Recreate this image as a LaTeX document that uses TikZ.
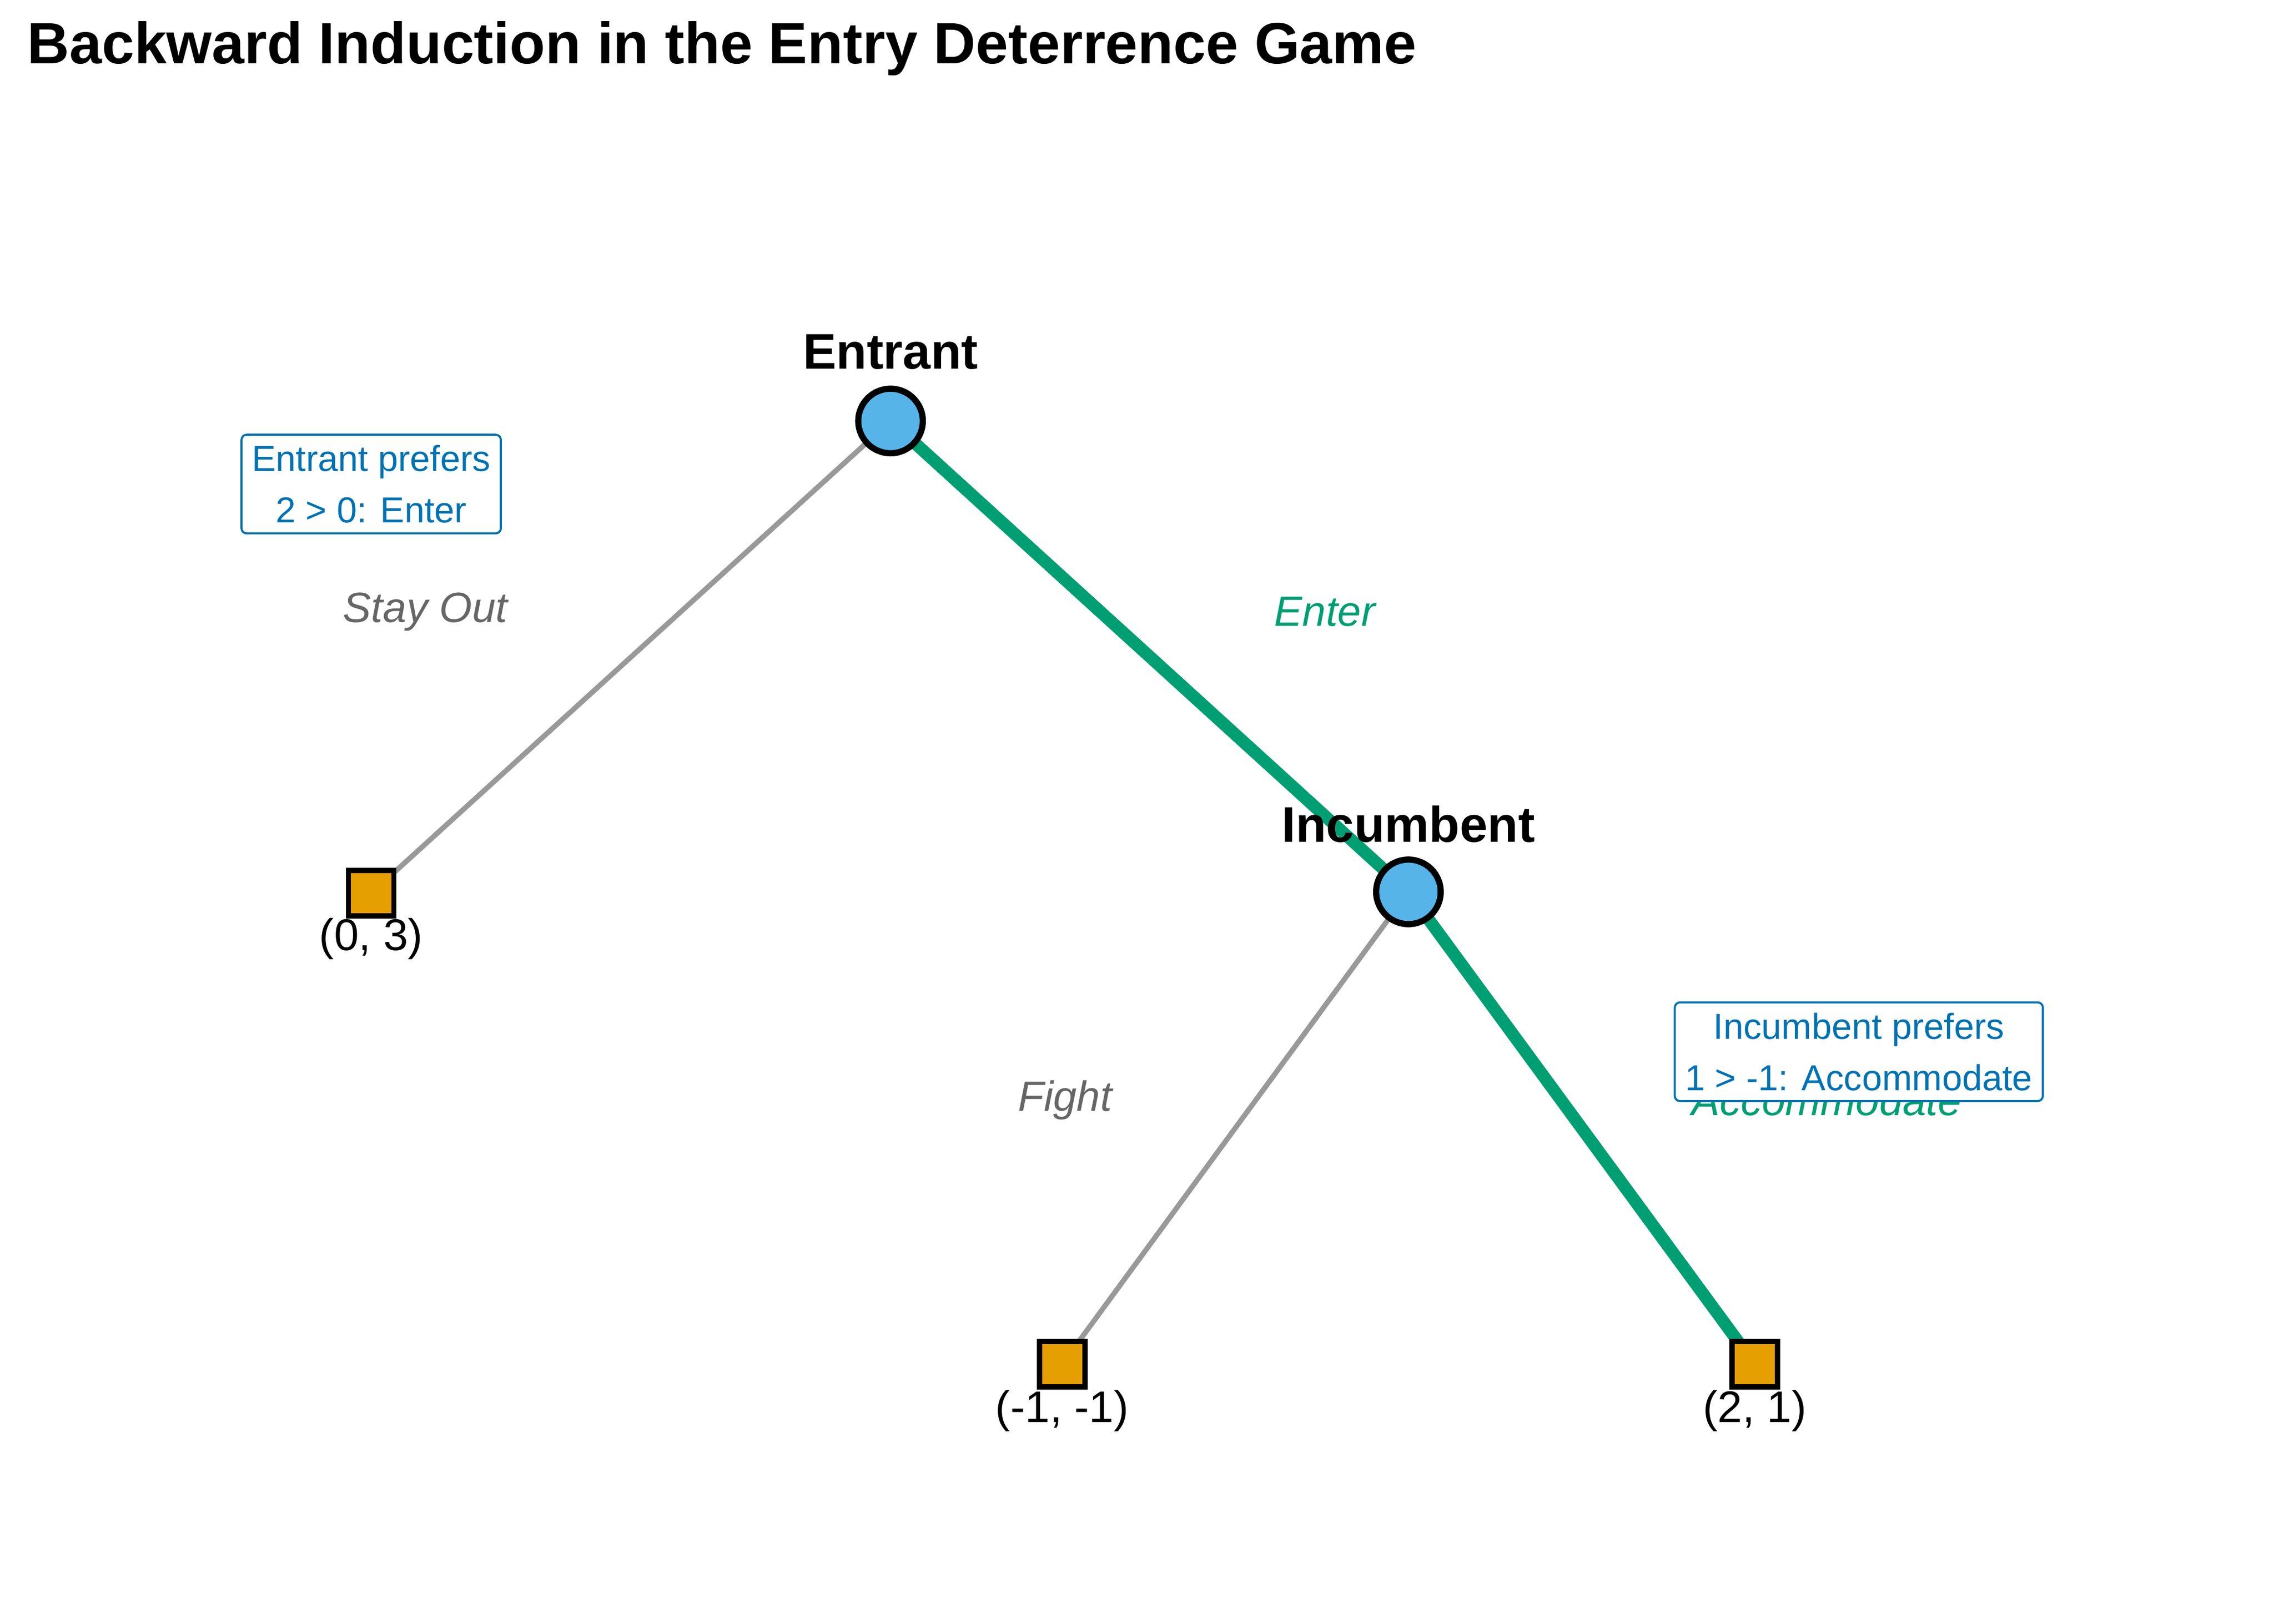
\documentclass[tikz,border=0pt]{standalone}
\usepackage{fontspec}
\setmainfont{Liberation Sans}
\definecolor{eqgreen}{HTML}{009E73}
\definecolor{decblue}{HTML}{56B4E9}
\definecolor{leaforange}{HTML}{E69F00}
\definecolor{notegblue}{HTML}{0072B2}
\definecolor{offgray}{HTML}{999999}
\definecolor{labgray}{HTML}{666666}
\begin{document}
\begin{tikzpicture}[every path/.style={line cap=round},
  decision/.style={circle,draw,line width=1.2pt,fill=decblue,minimum size=0.44cm,inner sep=0pt},
  leaf/.style={rectangle,draw,line width=1pt,fill=leaforange,minimum size=0.31cm,inner sep=0pt},
  player/.style={font=\fontsize{9.7}{12}\selectfont\bfseries},
  payoff/.style={font=\fontsize{8.6}{10}\selectfont},
  move/.style={font=\fontsize{8.2}{10}\selectfont\itshape},
  note/.style={draw=notegblue,text=notegblue,fill=white,rounded corners=1pt,align=center,
    font=\fontsize{7}{10}\selectfont,inner sep=2pt},
  offpath/.style={draw=offgray,line width=1pt},
  onpath/.style={draw=eqgreen,line width=2.4pt}]
\useasboundingbox (0,0) rectangle (15.5,11.07);
\node[anchor=west,inner sep=0pt,font=\fontsize{11.3}{14}\selectfont\bfseries] (title) at (0.18,10.74) {Backward Induction in the Entry Deterrence Game};
% tree positions
\coordinate (e) at (6.07,8.20);
\coordinate (i) at (9.60,4.99);
\coordinate (o) at (2.53,4.98);
\coordinate (f) at (7.24,1.77);
\coordinate (a) at (11.96,1.77);
\draw[offpath] (e) -- (o);
\draw[offpath] (i) -- (f);
\draw[onpath]  (e) -- (i);
\draw[onpath]  (i) -- (a);
\node[decision] (entrant)   at (e) {};
\node[decision] (incumbent) at (i) {};
\node[leaf]     (out)       at (o) {};
\node[leaf]     (fight)     at (f) {};
\node[leaf]     (accom)     at (a) {};
\node[player] at (6.07,8.67) {Entrant};
\node[player] at (9.60,5.45) {Incumbent};
\node[payoff] at (2.53,4.67) {(0, 3)};
\node[payoff] at (7.24,1.45) {(-1, -1)};
\node[payoff] at (11.96,1.45) {(2, 1)};
\node[move,text=labgray]  at (2.90,6.90) {Stay Out};
\node[move,text=eqgreen]  at (9.03,6.90) {Enter};
\node[move,text=labgray]  at (7.26,3.57) {Fight};
\node[move,text=eqgreen]  at (12.45,3.57) {Accommodate};
\node[note] at (2.53,7.77) {Entrant prefers\\2 > 0: Enter};
\node[note] at (12.67,3.90) {Incumbent prefers\\1 > -1: Accommodate};
\end{tikzpicture}
\end{document}
